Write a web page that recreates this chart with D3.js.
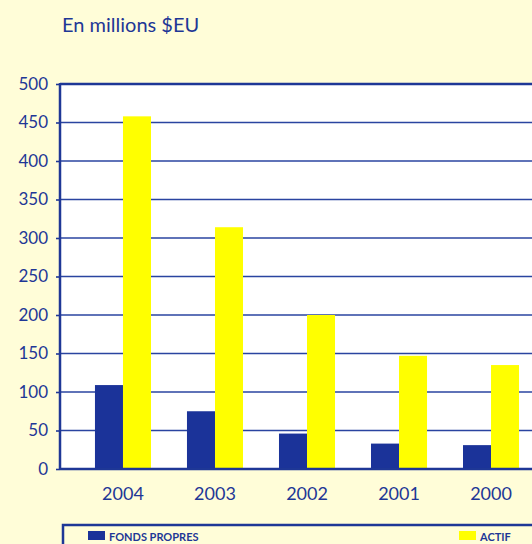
<!DOCTYPE html>
<html>
<head>
<meta charset="utf-8">
<script src="https://cdn.jsdelivr.net/npm/d3@7"></script>
<style>
  body { margin: 0; background: #fffdd8; overflow: hidden; }
  svg { display: block; }
  text { font-family: Lato, "Open Sans", sans-serif; fill: #1e3796; }
</style>
</head>
<body>
<div id="chart"></div>
<script>
// donnees
var years = ['2004', '2003', '2002', '2001', '2000'];
var fondsPropres = [109, 75, 46, 33, 31];
var actif = [458, 314, 200, 147, 135];
var series = ['FONDS PROPRES', 'ACTIF'];
var colors = ['#1b3399', '#ffff00'];
var yTicks = [0, 50, 100, 150, 200, 250, 300, 350, 400, 450, 500];

var width = 532;
var height = 544;
var navy = '#1e3796';

var svg = d3.select('#chart')
    .append('svg')
    .attr('width', width)
    .attr('height', height);

svg.append('rect')
    .attr('width', width)
    .attr('height', height)
    .attr('fill', '#fffdd8');

var plotLeft = 60, plotTop = 84, plotBottom = 469, plotRight = 554;

// echelles
var xscale = d3.scaleBand()
    .domain(years)
    .range([plotLeft, plotRight])
    .paddingInner(0.391)
    .paddingOuter(0.38);

var xsub = d3.scaleBand()
    .domain(series)
    .range([0, xscale.bandwidth()]);

var yscale = d3.scaleLinear()
    .domain([0, 500])
    .range([plotBottom, plotTop]);

// zone du graphique
svg.append('rect')
    .attr('x', plotLeft)
    .attr('y', plotTop)
    .attr('width', plotRight - plotLeft)
    .attr('height', plotBottom - plotTop)
    .attr('fill', '#ffffff');

// lignes de grille
svg.append('g')
    .selectAll('line')
    .data(yTicks.filter(d => d > 0 && d < 500))
    .enter()
    .append('line')
    .attr('x1', plotLeft)
    .attr('x2', plotRight)
    .attr('y1', d => yscale(d))
    .attr('y2', d => yscale(d))
    .attr('stroke', '#2a44a0')
    .attr('stroke-width', 1.6);

// barres
var table = years.map(function(y, i) {
    return { year: y, values: [fondsPropres[i], actif[i]] };
});

var groups = svg.selectAll('.grp')
    .data(table)
    .enter()
    .append('g')
    .attr('class', 'grp')
    .attr('transform', d => 'translate(' + xscale(d.year) + ',0)');

groups.selectAll('rect')
    .data(d => d.values.map((v, j) => ({ key: series[j], value: v, color: colors[j] })))
    .enter()
    .append('rect')
    .attr('x', d => xsub(d.key))
    .attr('y', d => yscale(d.value))
    .attr('width', xsub.bandwidth())
    .attr('height', d => plotBottom - yscale(d.value))
    .attr('fill', d => d.color);

// axe Y
var yaxis = d3.axisLeft(yscale)
    .tickValues(yTicks)
    .tickSize(4)
    .tickPadding(8);

var gy = svg.append('g')
    .attr('transform', 'translate(' + plotLeft + ',0)')
    .call(yaxis);
gy.select('.domain').remove();
gy.selectAll('.tick line').attr('stroke', navy).attr('stroke-width', 1.6);
gy.selectAll('.tick text')
    .attr('font-size', 17)
    .attr('fill', navy)
    .style('font-family', 'Lato, sans-serif');

// bordures
svg.append('line')
    .attr('x1', plotLeft).attr('x2', plotLeft)
    .attr('y1', plotTop - 1).attr('y2', plotBottom + 1)
    .attr('stroke', navy).attr('stroke-width', 2.5);
svg.append('line')
    .attr('x1', plotLeft).attr('x2', plotRight)
    .attr('y1', plotTop).attr('y2', plotTop)
    .attr('stroke', navy).attr('stroke-width', 2.5);
svg.append('line')
    .attr('x1', plotLeft).attr('x2', plotRight)
    .attr('y1', plotBottom).attr('y2', plotBottom)
    .attr('stroke', navy).attr('stroke-width', 2.5);

// axe X
var xaxis = d3.axisBottom(xscale).tickSize(0).tickPadding(18);
var gx = svg.append('g')
    .attr('transform', 'translate(0,' + plotBottom + ')')
    .call(xaxis);
gx.select('.domain').remove();
gx.selectAll('.tick text')
    .attr('font-size', 18)
    .attr('fill', navy)
    .style('font-family', 'Lato, sans-serif');

// titre
svg.append('text')
    .attr('x', 62)
    .attr('y', 32)
    .attr('font-size', 20)
    .text('En millions $EU');

// legende
svg.append('rect')
    .attr('x', 63)
    .attr('y', 525)
    .attr('width', 500)
    .attr('height', 40)
    .attr('fill', '#fffdd8')
    .attr('stroke', navy)
    .attr('stroke-width', 2.5);

var legendX = [88, 459];
var leg = svg.selectAll('.leg')
    .data(series)
    .enter()
    .append('g')
    .attr('class', 'leg')
    .attr('transform', (d, i) => 'translate(' + legendX[i] + ',531)');
leg.append('rect')
    .attr('width', 17)
    .attr('height', 9)
    .attr('fill', (d, i) => colors[i]);
leg.append('text')
    .attr('x', 21)
    .attr('y', 10)
    .attr('font-size', 11)
    .attr('font-weight', 'bold')
    .text(d => d);
</script>
</body>
</html>
